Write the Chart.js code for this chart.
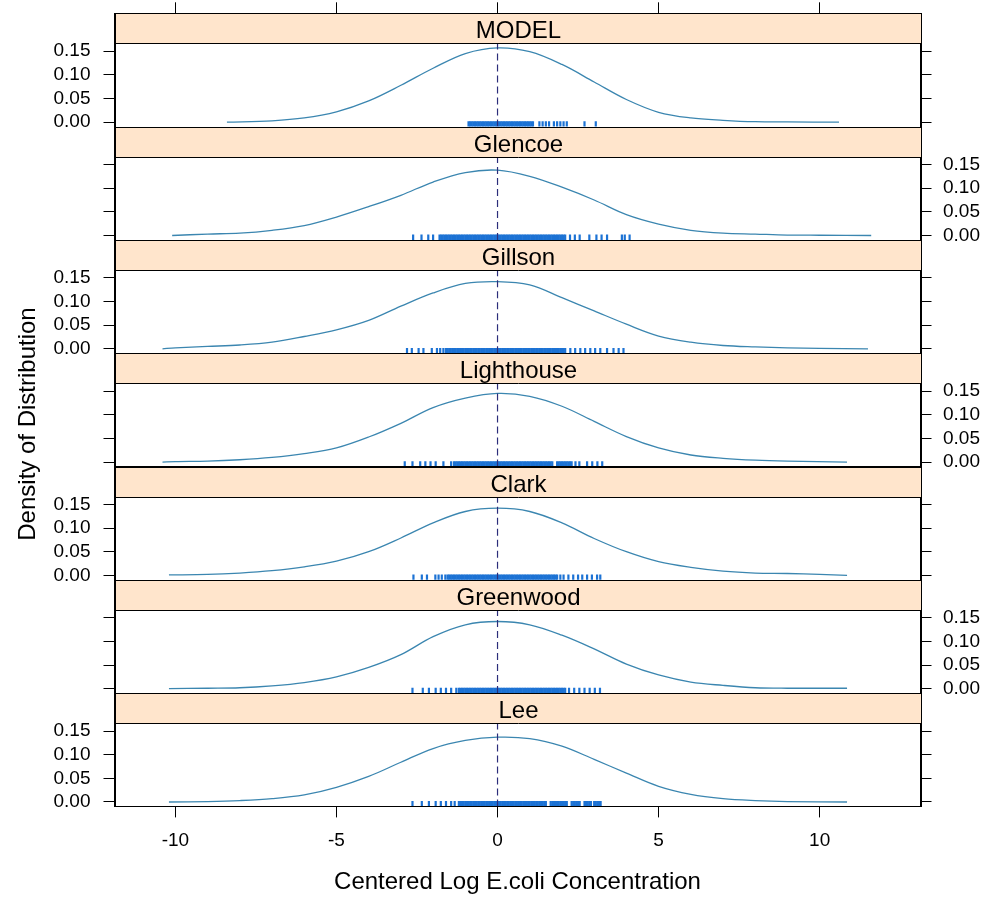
<!DOCTYPE html>
<html>
<head>
<meta charset="utf-8">
<script src="https://cdn.jsdelivr.net/npm/chart.js@4.4.1/dist/chart.umd.min.js"></script>
<style>
  html, body { margin: 0; padding: 0; background: #fff; }
  #wrap { position: relative; width: 987px; height: 900px; }
  #wrap canvas { position: absolute; left: 0; top: 0; }
</style>
</head>
<body>
<div id="wrap"></div>
<script>
// panels, top to bottom
const panelNames = ['MODEL', 'Glencoe', 'Gillson', 'Lighthouse', 'Clark', 'Greenwood', 'Lee'];
const xTicks = [-10, -5, 0, 5, 10];
const yTicks = [0, 0.05, 0.10, 0.15];
const refLineX = 0;

// density curves
const modelX = [-8.4, -7, -6, -5, -4, -3, -2, -1, 0, 1, 2, 3, 4, 5, 6, 7, 8, 9, 10.6];
const modelY = [0, 0.003, 0.009, 0.022, 0.045, 0.078, 0.114, 0.145, 0.157, 0.149, 0.122, 0.085, 0.048, 0.021, 0.009, 0.004, 0.001, 0.0005, 0];

const glencoeX = [-10.1, -9, -8, -7, -6, -5, -4, -3, -2, -1, 0, 1, 2, 3, 4, 5, 6, 7, 8, 9, 10, 11.6];
const glencoeY = [0, 0.003, 0.005, 0.011, 0.021, 0.039, 0.061, 0.085, 0.113, 0.133, 0.138, 0.125, 0.102, 0.075, 0.044, 0.024, 0.011, 0.005, 0.003, 0.001, 0.0005, 0];

const gillsonX = [-10.4, -10, -9, -8, -7, -6, -5, -4, -3, -2, -1, 0, 1, 2, 3, 4, 5, 6, 7, 8, 9, 10, 11.5];
const gillsonY = [0, 0.002, 0.005, 0.008, 0.014, 0.026, 0.040, 0.060, 0.090, 0.118, 0.138, 0.142, 0.135, 0.108, 0.080, 0.052, 0.027, 0.014, 0.007, 0.004, 0.002, 0.001, 0];

const lighthouseX = [-10.4, -10, -9, -8, -7, -6, -5, -4, -3, -2, -1, 0, 1, 2, 3, 4, 5, 6, 7, 8, 9, 10.85];
const lighthouseY = [0, 0.001, 0.002, 0.005, 0.010, 0.018, 0.030, 0.053, 0.082, 0.115, 0.135, 0.145, 0.139, 0.118, 0.086, 0.054, 0.030, 0.015, 0.008, 0.004, 0.002, 0];

const clarkX = [-10.2, -9, -8, -7, -6, -5, -4, -3, -2, -1, 0, 1, 2, 3, 4, 5, 6, 7, 8, 9, 10, 10.85];
const clarkY = [0.001, 0.002, 0.005, 0.010, 0.018, 0.030, 0.050, 0.079, 0.111, 0.135, 0.142, 0.135, 0.111, 0.078, 0.050, 0.029, 0.017, 0.009, 0.005, 0.004, 0.002, 0];

const greenwoodX = [-10.2, -9, -8, -7, -6, -5, -4, -3, -2, -1, 0, 1, 2, 3, 4, 5, 6, 7, 8, 9, 10.85];
const greenwoodY = [0, 0.001, 0.002, 0.006, 0.013, 0.025, 0.045, 0.072, 0.110, 0.135, 0.142, 0.135, 0.113, 0.084, 0.052, 0.029, 0.014, 0.007, 0.002, 0.001, 0.001];

const leeX = [-10.2, -9, -8, -7, -6, -5, -4, -3, -2, -1, 0, 1, 2, 3, 4, 5, 6, 7, 8, 9, 10.85];
const leeY = [0, 0.001, 0.003, 0.007, 0.015, 0.031, 0.054, 0.084, 0.113, 0.130, 0.137, 0.134, 0.118, 0.090, 0.061, 0.033, 0.016, 0.007, 0.003, 0.001, 0];

const modelRug = [-0.9, -0.85, -0.8, -0.75, -0.7, -0.65, -0.6, -0.55, -0.5, -0.45, -0.4, -0.35, -0.3, -0.25, -0.2, -0.15,
  -0.1, -0.05, 0, 0.05, 0.1, 0.15, 0.2, 0.25, 0.3, 0.35, 0.4, 0.45, 0.5, 0.55, 0.6, 0.65, 0.7, 0.75, 0.8, 0.85, 0.9, 0.95,
  1, 1.05, 1.1, 1.3, 1.4, 1.5, 1.6, 1.75, 1.85, 1.95, 2.05, 2.15, 2.7, 3.05];
const glencoeRug = [-2.62, -2.36, -2.15, -2.0, -1.8, -1.75, -1.7, -1.65, -1.6, -1.55, -1.5, -1.45, -1.4, -1.35, -1.3, -1.25,
  -1.2, -1.15, -1.1, -1.05, -1, -0.95, -0.9, -0.85, -0.8, -0.75, -0.7, -0.65, -0.6, -0.55, -0.5, -0.45, -0.4, -0.35, -0.3,
  -0.25, -0.2, -0.15, -0.1, -0.05, 0, 0.05, 0.1, 0.15, 0.2, 0.25, 0.3, 0.35, 0.4, 0.45, 0.5, 0.55, 0.6, 0.65, 0.7, 0.75,
  0.8, 0.85, 0.9, 0.95, 1, 1.05, 1.1, 1.15, 1.2, 1.25, 1.3, 1.35, 1.4, 1.45, 1.5, 1.55, 1.6, 1.65, 1.7, 1.75, 1.8, 1.85,
  1.9, 1.95, 2, 2.05, 2.1, 2.25, 2.4, 2.55, 2.85, 3.07, 3.23, 3.4, 3.86, 3.95, 4.1];
const gillsonRug = [-2.81, -2.66, -2.45, -2.3, -2.04, -1.88, -1.78, -1.68, -1.6, -1.55, -1.5, -1.45, -1.4, -1.35, -1.3,
  -1.25, -1.2, -1.15, -1.1, -1.05, -1, -0.95, -0.9, -0.85, -0.8, -0.75, -0.7, -0.65, -0.6, -0.55, -0.5, -0.45, -0.4, -0.35,
  -0.3, -0.25, -0.2, -0.15, -0.1, -0.05, 0, 0.05, 0.1, 0.15, 0.2, 0.25, 0.3, 0.35, 0.4, 0.45, 0.5, 0.55, 0.6, 0.65, 0.7,
  0.75, 0.8, 0.85, 0.9, 0.95, 1, 1.05, 1.1, 1.15, 1.2, 1.25, 1.3, 1.35, 1.4, 1.45, 1.5, 1.55, 1.6, 1.65, 1.7, 1.75, 1.8,
  1.85, 1.9, 1.95, 2, 2.05, 2.1, 2.26, 2.41, 2.57, 2.72, 2.88, 3.03, 3.19, 3.4, 3.6, 3.76, 3.91];
const lighthouseRug = [-2.88, -2.64, -2.4, -2.24, -2.08, -1.92, -1.68, -1.44, -1.35, -1.3, -1.25, -1.2, -1.15, -1.1, -1.05,
  -1, -0.95, -0.9, -0.85, -0.8, -0.75, -0.7, -0.65, -0.6, -0.55, -0.5, -0.45, -0.4, -0.35, -0.3, -0.25, -0.2, -0.15, -0.1,
  -0.05, 0, 0.05, 0.1, 0.15, 0.2, 0.25, 0.3, 0.35, 0.4, 0.45, 0.5, 0.55, 0.6, 0.65, 0.7, 0.75, 0.8, 0.85, 0.9, 0.95, 1,
  1.05, 1.1, 1.15, 1.2, 1.25, 1.3, 1.35, 1.4, 1.45, 1.5, 1.55, 1.6, 1.65, 1.7, 1.85, 1.9, 1.95, 2, 2.05, 2.1, 2.15, 2.2,
  2.25, 2.3, 2.42, 2.54, 2.78, 2.94, 3.1, 3.25];
const clarkRug = [-2.61, -2.35, -2.19, -1.93, -1.83, -1.73, -1.62, -1.55, -1.5, -1.45, -1.4, -1.35, -1.3, -1.25, -1.2,
  -1.15, -1.1, -1.05, -1, -0.95, -0.9, -0.85, -0.8, -0.75, -0.7, -0.65, -0.6, -0.55, -0.5, -0.45, -0.4, -0.35, -0.3, -0.25,
  -0.2, -0.15, -0.1, -0.05, 0, 0.05, 0.1, 0.15, 0.2, 0.25, 0.3, 0.35, 0.4, 0.45, 0.5, 0.55, 0.6, 0.65, 0.7, 0.75, 0.8,
  0.85, 0.9, 0.95, 1, 1.05, 1.1, 1.15, 1.2, 1.25, 1.3, 1.35, 1.4, 1.45, 1.5, 1.55, 1.6, 1.65, 1.7, 1.75, 1.8, 1.85, 1.95,
  2.05, 2.2, 2.35, 2.5, 2.63, 2.78, 2.93, 3.09, 3.19];
const greenwoodRug = [-2.64, -2.32, -2.13, -1.92, -1.76, -1.6, -1.44, -1.28, -1.2, -1.15, -1.1, -1.05, -1, -0.95, -0.9,
  -0.85, -0.8, -0.75, -0.7, -0.65, -0.6, -0.55, -0.5, -0.45, -0.4, -0.35, -0.3, -0.25, -0.2, -0.15, -0.1, -0.05, 0, 0.05,
  0.1, 0.15, 0.2, 0.25, 0.3, 0.35, 0.4, 0.45, 0.5, 0.55, 0.6, 0.65, 0.7, 0.75, 0.8, 0.85, 0.9, 0.95, 1, 1.05, 1.1, 1.15,
  1.2, 1.25, 1.3, 1.35, 1.4, 1.45, 1.5, 1.55, 1.6, 1.65, 1.7, 1.75, 1.8, 1.85, 1.9, 1.95, 2, 2.05, 2.1, 2.22, 2.38, 2.54,
  2.7, 2.86, 3.02, 3.18];
const leeRug = [-2.64, -2.35, -2.13, -1.92, -1.76, -1.6, -1.44, -1.33, -1.2, -1.15, -1.1, -1.05, -1, -0.95, -0.9, -0.85,
  -0.8, -0.75, -0.7, -0.65, -0.6, -0.55, -0.5, -0.45, -0.4, -0.35, -0.3, -0.25, -0.2, -0.15, -0.1, -0.05, 0, 0.05, 0.1,
  0.15, 0.2, 0.25, 0.3, 0.35, 0.4, 0.45, 0.5, 0.55, 0.6, 0.65, 0.7, 0.75, 0.8, 0.85, 0.9, 0.95, 1, 1.05, 1.1, 1.15, 1.2,
  1.25, 1.3, 1.35, 1.4, 1.45, 1.5, 1.65, 1.7, 1.75, 1.8, 1.85, 1.9, 1.95, 2, 2.05, 2.1, 2.15, 2.3, 2.35, 2.4, 2.45, 2.5,
  2.55, 2.7, 2.75, 2.8, 2.85, 2.9, 3, 3.05, 3.1, 3.15, 3.2];

const curvesX = [modelX, glencoeX, gillsonX, lighthouseX, clarkX, greenwoodX, leeX];
const curvesY = [modelY, glencoeY, gillsonY, lighthouseY, clarkY, greenwoodY, leeY];
const rugs = [modelRug, glencoeRug, gillsonRug, lighthouseRug, clarkRug, greenwoodRug, leeRug];

// layout
const W = 987, H = 900;
const plotLeft = 114.5, plotRight = 920.5;
const firstTop = 13.3, stripH = 30, panelH = 83.3;
const xMin = -11.89, xMax = 13.13;
const yMin = -0.0093, yMax = 0.1667;
const yFull = yMax + (yMax - yMin) * stripH / panelH; // strip sits on top of each panel
const rugY = -0.004;
const FONT = '"Liberation Sans", Arial, Helvetica, sans-serif';

Chart.defaults.font.family = FONT;
Chart.defaults.color = '#000';

const stripPlugin = {
  id: 'strip',
  afterDatasetsDraw(chart, args, opts) {
    const { ctx, chartArea: a } = chart;
    const yp = Math.round(chart.scales.y.getPixelForValue(yMax)) + 0.5;
    const l = Math.round(a.left) + 0.5, r = Math.round(a.right) + 0.5;
    const t = Math.round(a.top) + 0.5, b = Math.round(a.bottom) + 0.5;
    ctx.save();
    ctx.fillStyle = '#ffe5cc';
    ctx.fillRect(l, t, r - l, yp - t);
    ctx.strokeStyle = '#000';
    ctx.lineWidth = 1;
    ctx.strokeRect(l, t, r - l, b - t);
    ctx.beginPath();
    ctx.moveTo(l, yp);
    ctx.lineTo(r, yp);
    ctx.stroke();
    ctx.fillStyle = '#000';
    ctx.font = '24px ' + FONT;
    ctx.textAlign = 'center';
    ctx.textBaseline = 'middle';
    ctx.fillText(opts.label, (l + r) / 2, (t + yp) / 2 + 3);
    ctx.restore();
  }
};

const yTitlePlugin = {
  id: 'ytitle',
  afterDraw(chart) {
    const ctx = chart.ctx;
    ctx.save();
    ctx.translate(28, 424);
    ctx.rotate(-Math.PI / 2);
    ctx.font = '24px ' + FONT;
    ctx.fillStyle = '#000';
    ctx.textAlign = 'center';
    ctx.textBaseline = 'middle';
    ctx.fillText('Density of Distribution', 0, 0);
    ctx.restore();
  }
};

const wrap = document.getElementById('wrap');

panelNames.forEach((name, i) => {
  const canvas = document.createElement('canvas');
  canvas.width = W;
  canvas.height = H;
  wrap.appendChild(canvas);

  const stripTop = firstTop + i * (stripH + panelH);
  const panelBottom = stripTop + stripH + panelH;
  const isFirst = i === 0;
  const isLast = i === panelNames.length - 1;
  const labelsLeft = i % 2 === 0;

  const yAxis = (pos) => ({
    type: 'linear',
    position: pos,
    min: yMin,
    max: yFull,
    afterBuildTicks: s => { s.ticks = yTicks.map(v => ({ value: v })); },
    afterFit: s => {
      s.width = pos === 'left' ? plotLeft : W - plotRight;
      s.paddingTop = 0;
      s.paddingBottom = 0;
    },
    grid: { drawOnChartArea: false, tickLength: 11, tickColor: '#000' },
    border: { color: '#000' },
    ticks: {
      display: pos === 'left' ? labelsLeft : !labelsLeft,
      padding: pos === 'left' ? 13 : 11.5,
      color: '#000',
      font: { size: 19 },
      callback: v => v.toFixed(2)
    }
  });

  new Chart(canvas, {
    type: 'line',
    data: {
      datasets: [
        {
          data: [{ x: refLineX, y: yMin }, { x: refLineX, y: yMax }],
          borderColor: '#2b2d7a',
          borderDash: [7, 4],
          borderWidth: 1.2,
          pointRadius: 0
        },
        {
          data: curvesX[i].map((x, k) => ({ x: x, y: curvesY[i][k] })),
          borderColor: '#3b86b0',
          borderWidth: 1.3,
          pointRadius: 0,
          tension: 0.35
        },
        {
          data: rugs[i].map(x => ({ x: x, y: rugY })),
          showLine: false,
          pointStyle: 'line',
          pointRotation: 90,
          pointRadius: 2.8,
          pointBorderWidth: 2.2,
          pointBorderColor: '#1c72d4'
        }
      ]
    },
    options: {
      responsive: false,
      animation: false,
      events: [],
      layout: {
        padding: {
          left: 0, right: 0,
          top: isFirst ? 0 : stripTop,
          bottom: isLast ? 0 : H - panelBottom
        }
      },
      plugins: {
        legend: { display: false },
        tooltip: { enabled: false },
        strip: { label: name }
      },
      scales: {
        x: {
          type: 'linear',
          min: xMin,
          max: xMax,
          display: isFirst || isLast,
          position: isFirst ? 'top' : 'bottom',
          afterBuildTicks: s => { s.ticks = xTicks.map(v => ({ value: v })); },
          afterFit: s => {
            s.height = isFirst ? stripTop : (isLast ? H - panelBottom : 0);
            s.paddingLeft = 0;
            s.paddingRight = 0;
          },
          grid: { drawOnChartArea: false, tickLength: 11, tickColor: '#000' },
          border: { color: '#000' },
          ticks: { display: isLast, padding: 12, color: '#000', font: { size: 19 } },
          title: {
            display: isLast,
            text: 'Centered Log E.coli Concentration',
            color: '#000',
            font: { size: 24 },
            padding: { top: 0, bottom: 3 }
          }
        },
        y: yAxis('left'),
        y2: yAxis('right')
      }
    },
    plugins: isFirst ? [stripPlugin, yTitlePlugin] : [stripPlugin]
  });
});
</script>
</body>
</html>
